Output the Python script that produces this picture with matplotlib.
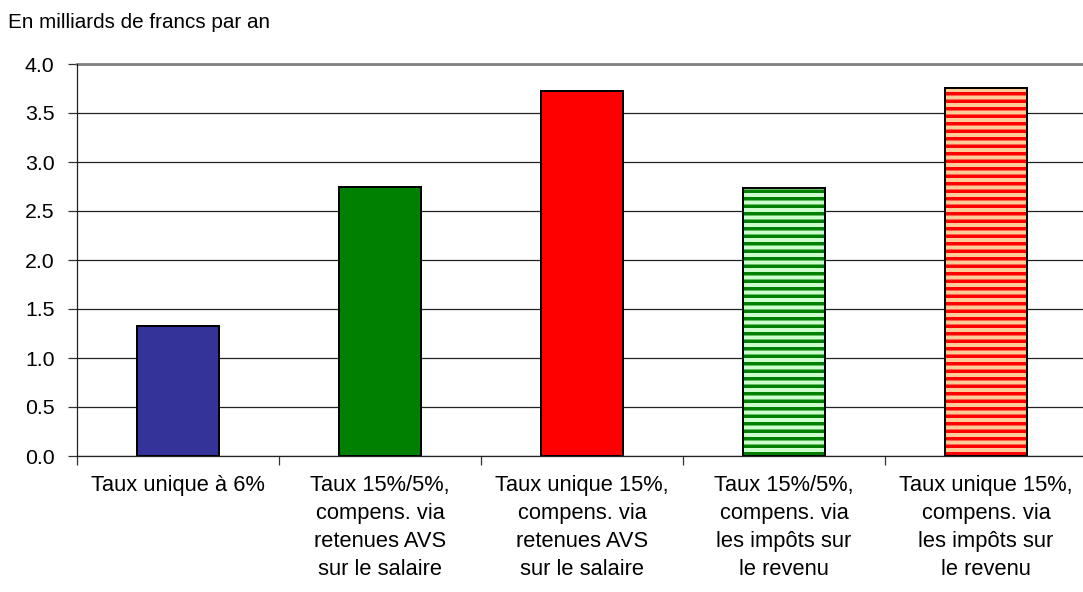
import matplotlib
matplotlib.use("Agg")
import matplotlib.pyplot as plt
import numpy as np

# Coût annuel des variantes, en milliards de francs
categories = [
    "Taux unique à 6%",
    "Taux 15%/5%,\ncompens. via\nretenues AVS\nsur le salaire",
    "Taux unique 15%,\ncompens. via\nretenues AVS\nsur le salaire",
    "Taux 15%/5%,\ncompens. via\nles impôts sur\nle revenu",
    "Taux unique 15%,\ncompens. via\nles impôts sur\nle revenu",
]
values = [1.33, 2.75, 3.72, 2.73, 3.76]
face_colors = ["#333399", "#008000", "#FF0000", "#CCFFCC", "#FFCC99"]
stripe_colors = [None, None, None, "#008000", "#FF0000"]
y_ticks = [0.0, 0.5, 1.0, 1.5, 2.0, 2.5, 3.0, 3.5, 4.0]
y_label = "En milliards de francs par an"

plt.rcParams["font.family"] = ["Liberation Sans", "DejaVu Sans"]
plt.rcParams["hatch.linewidth"] = 2.8

DPI = 90
W, H = 1083, 592
fig = plt.figure(figsize=(W / DPI, H / DPI), dpi=DPI)
# plot area: left edge at x=77 px, categories 202 px apart, baseline at y=456 px, top at y=64 px
ax = fig.add_axes([77 / W, 1 - 456 / H, 5 * 202 / W, (456 - 64) / H])

x = np.arange(len(categories))
width = 0.405

for xi, v, fc, sc in zip(x, values, face_colors, stripe_colors):
    if sc is None:
        ax.bar(xi, v, width=width, color=fc, edgecolor="black", linewidth=1.6, zorder=3)
    else:
        ax.bar(xi, v, width=width, color=fc, edgecolor=sc, hatch="--", linewidth=0, zorder=3)
        ax.bar(xi, v, width=width, fill=False, edgecolor="black", linewidth=1.6, zorder=4)

ax.set_xlim(-0.5, len(categories) - 0.5)
ax.set_ylim(0, 4.0)
ax.set_yticks(y_ticks)
ax.set_yticklabels([f"{t:.1f}" for t in y_ticks])
ax.yaxis.grid(True, color="#222222", linewidth=1.0, zorder=0)
ax.set_axisbelow(True)
# top gridline drawn slightly heavier and grey
ax.axhline(4.0, color="#808080", linewidth=2.2, zorder=1, clip_on=False)

ax.set_xticks(x)
ax.set_xticklabels(categories, linespacing=1.45)
ax.tick_params(axis="x", which="major", length=0, pad=15, labelsize=17.5)
ax.set_xticks(np.arange(-0.5, len(categories) + 0.5, 1.0), minor=True)
ax.tick_params(axis="x", which="minor", length=7, width=1.0, color="#333333", direction="out")
ax.tick_params(axis="y", length=7, width=1.0, color="#333333", pad=11, labelsize=17, direction="out")

for side in ["top", "right"]:
    ax.spines[side].set_visible(False)
ax.spines["left"].set_color("#222222")
ax.spines["bottom"].set_color("#222222")
ax.spines["left"].set_linewidth(1.0)
ax.spines["bottom"].set_linewidth(1.0)

fig.text(8 / W, 1 - 22 / H, y_label, fontsize=16.5, va="center", ha="left")

fig.savefig("out.png", dpi=DPI, facecolor="white")
